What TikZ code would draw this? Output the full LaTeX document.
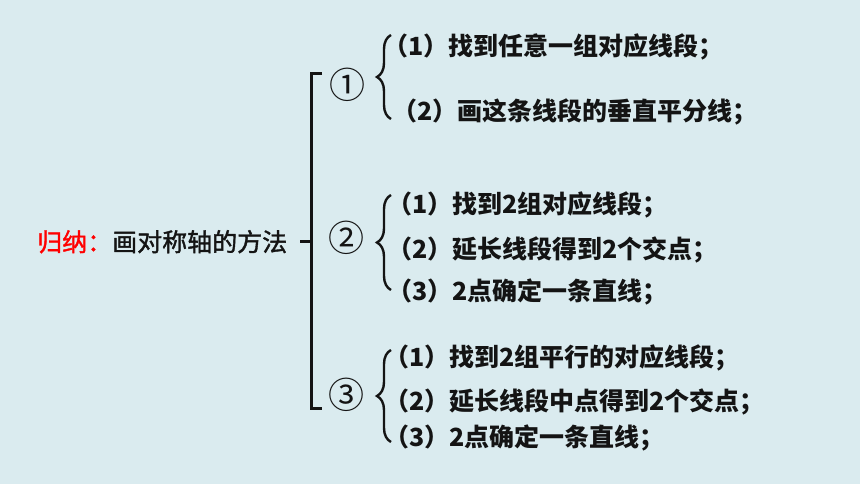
\documentclass[tikz,border=0pt]{standalone}
\usepackage{fontspec}
\newfontfamily\cjk{Noto Sans CJK SC}
\newfontfamily\cjkmed[FakeBold=1.5]{Noto Sans CJK SC}
\usetikzlibrary{decorations.pathreplacing}
\definecolor{bg}{RGB}{218,235,239}
\definecolor{ink}{RGB}{20,20,20}
\tikzset{
  itemtext/.style={anchor=west, inner sep=0pt, text=ink, font=\cjk\bfseries\fontsize{25}{28}\selectfont},
  numtext/.style={inner sep=0pt, text=ink, font=\cjk\fontsize{36}{40}\selectfont},
  bigbracket/.style={line width=3pt, draw=ink},
  bracestyle/.style={decorate, decoration={brace, amplitude=14pt}, line width=2.4pt, draw=ink},
}
\begin{document}
\begin{tikzpicture}[x=1pt,y=-1pt]
\useasboundingbox (0,0) rectangle (860,484);
\fill[bg] (0,0) rectangle (860,484);

% main label
\node[anchor=west, inner sep=0pt, text=ink, font=\cjkmed\fontsize{25}{30}\selectfont] (label) at (37,241.7) {\textcolor{red}{归纳：}画对称轴的方法};

% big bracket
\coordinate (stub) at (300,241.7);
\coordinate (mid) at (311,241.7);
\coordinate (tr) at (322,74);
\coordinate (tl) at (311,74);
\coordinate (bl) at (311,408);
\coordinate (br) at (322,408);
\draw[bigbracket] (tr) -- (tl) -- (bl) -- (br);
\draw[bigbracket] (stub) -- (mid);

% circled numbers
\node[numtext] (n1) at (347,85) {①};
\node[numtext] (n2) at (346,238) {②};
\node[numtext] (n3) at (346,395) {③};

% braces
\coordinate (b1t) at (391,35);  \coordinate (b1b) at (391,119);
\coordinate (b2t) at (391,195); \coordinate (b2b) at (391,290);
\coordinate (b3t) at (391,350); \coordinate (b3b) at (391,442);
\draw[bracestyle] (b1b) -- (b1t);
\draw[bracestyle] (b2b) -- (b2t);
\draw[bracestyle] (b3b) -- (b3t);

% group 1
\node[itemtext] (g1a) at (383,46.7) {（1）找到任意一组对应线段；};
\node[itemtext] (g1b) at (392,111.7) {（2）画这条线段的垂直平分线；};
% group 2
\node[itemtext] (g2a) at (387,205) {（1）找到2组对应线段；};
\node[itemtext] (g2b) at (387,250) {（2）延长线段得到2个交点；};
\node[itemtext] (g2c) at (387,291.5) {（3）2点确定一条直线；};
% group 3
\node[itemtext] (g3a) at (384,358) {（1）找到2组平行的对应线段；};
\node[itemtext] (g3b) at (384,402) {（2）延长线段中点得到2个交点；};
\node[itemtext] (g3c) at (384,438) {（3）2点确定一条直线；};
\end{tikzpicture}
\end{document}
